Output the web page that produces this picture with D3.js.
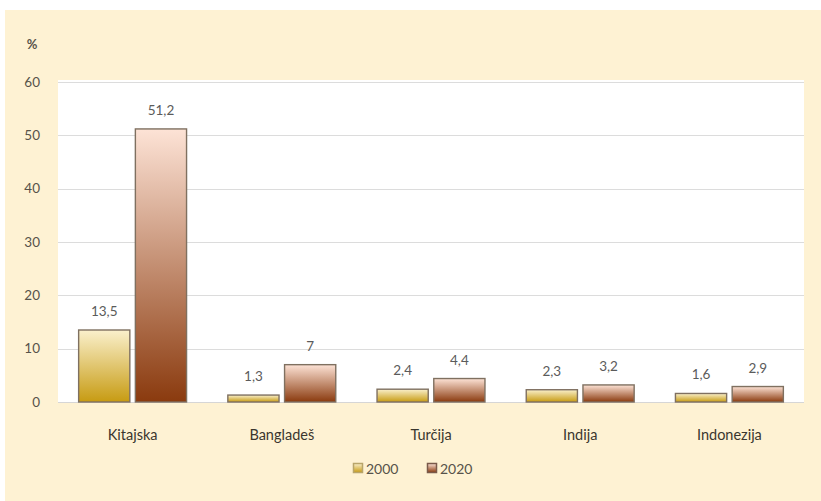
<!DOCTYPE html>
<html>
<head>
<meta charset="utf-8">
<script src="https://cdn.jsdelivr.net/npm/d3@7/dist/d3.min.js"></script>
<style>
  html, body { margin: 0; padding: 0; background: #ffffff; }
  svg { display: block; }
  text { font-family: Lato, "Open Sans", sans-serif; }
</style>
</head>
<body>
<svg id="chart" width="821" height="501"></svg>
<script>
// Share of world textile exports, %
const categories = ["Kitajska", "Bangladeš", "Turčija", "Indija", "Indonezija"];
const years = ["2000", "2020"];
const values2000 = [13.5, 1.3, 2.4, 2.3, 1.6];
const values2020 = [51.2, 7, 4.4, 3.2, 2.9];
const yTicks = [0, 10, 20, 30, 40, 50, 60];

const series = [
  { key: years[0], values: values2000, top: "#faf0cc", bottom: "#c79b12", legend: "#b8a56a" },
  { key: years[1], values: values2020, top: "#fde3d6", bottom: "#8a3a0e", legend: "#7a5a4a" }
];

const W = 821, H = 501;
const svg = d3.select("#chart");

// page background
svg.append("rect").attr("x", 5).attr("y", 10).attr("width", W - 5).attr("height", H - 10)
  .attr("fill", "#fef2d3");

const plot = { left: 58, right: 804, top: 80, bottom: 402 };

svg.append("rect")
  .attr("x", plot.left).attr("y", plot.top)
  .attr("width", plot.right - plot.left).attr("height", plot.bottom - plot.top + 1)
  .attr("fill", "#ffffff");

const y = d3.scaleLinear().domain([0, 60]).range([plot.bottom, 82]);
const x0 = d3.scaleBand().domain(categories).range([plot.left, plot.right]).paddingInner(0.27).paddingOuter(0.135);
const x1 = d3.scaleBand().domain(years).range([0, x0.bandwidth()]).paddingInner(0.08);

// gradients, one per series, spanning each bar's own height
const defs = svg.append("defs");
series.forEach((s, i) => {
  const g = defs.append("linearGradient").attr("id", "grad" + i)
    .attr("x1", 0).attr("y1", 0).attr("x2", 0).attr("y2", 1);
  g.append("stop").attr("offset", "0%").attr("stop-color", s.top);
  g.append("stop").attr("offset", "100%").attr("stop-color", s.bottom);
});

// gridlines
svg.append("g").selectAll("line").data(yTicks.filter(t => t > 0)).join("line")
  .attr("x1", plot.left).attr("x2", plot.right)
  .attr("y1", d => Math.round(y(d)) + 0.5).attr("y2", d => Math.round(y(d)) + 0.5)
  .attr("stroke", "#dcdcdc").attr("stroke-width", 1.2);

// baseline
svg.append("line").attr("x1", plot.left).attr("x2", plot.right)
  .attr("y1", Math.round(y(0)) + 0.5).attr("y2", Math.round(y(0)) + 0.5)
  .attr("stroke", "#d6d6d6").attr("stroke-width", 1.2);

// y axis labels
const yAxis = d3.axisLeft(y).tickValues(yTicks).tickSize(0).tickPadding(0);
const yg = svg.append("g").attr("transform", "translate(40,0)").call(yAxis);
yg.select(".domain").remove();
yg.selectAll("text").attr("fill", "#57534a").attr("font-size", 13.5).attr("font-family", "Lato, sans-serif");

svg.append("text").attr("x", 32).attr("y", 49).attr("text-anchor", "middle")
  .attr("fill", "#57534a").attr("font-size", 13).attr("font-weight", "bold").text("%");

// bars
series.forEach((s, i) => {
  const g = svg.append("g");
  g.selectAll("rect").data(s.values).join("rect")
    .attr("x", (d, j) => x0(categories[j]) + x1(s.key) + 0.5)
    .attr("y", d => y(d))
    .attr("width", x1.bandwidth() - 1)
    .attr("height", d => y(0) - y(d))
    .attr("fill", `url(#grad${i})`)
    .attr("stroke", "#7f7060").attr("stroke-width", 1.4);

  g.selectAll("text").data(s.values).join("text")
    .attr("x", (d, j) => x0(categories[j]) + x1(s.key) + x1.bandwidth() / 2)
    .attr("y", d => y(d) - 14)
    .attr("text-anchor", "middle")
    .attr("fill", "#5b5b5b").attr("font-size", 13.5)
    .text(d => d3.format(",")(d).replace(".", ","));
});

// x axis labels
const xAxis = d3.axisBottom(x0).tickSize(0).tickPadding(0);
const xg = svg.append("g").attr("transform", "translate(0,430)").call(xAxis);
xg.select(".domain").remove();
xg.selectAll("text").attr("fill", "#3a362e").attr("font-size", 14.5).attr("font-family", "Lato, sans-serif");

// legend
const legendX = [353, 427];
const lg = svg.append("g");
series.forEach((s, i) => {
  const item = lg.append("g").attr("transform", `translate(${legendX[i]},463)`);
  item.append("rect").attr("x", 0.5).attr("y", 0.5).attr("width", 9).attr("height", 9)
    .attr("fill", `url(#grad${i})`).attr("stroke", s.legend).attr("stroke-width", 1.5);
  item.append("text").attr("x", 13).attr("y", 10.5).attr("fill", "#57534a")
    .attr("font-size", 14).text(s.key);
});
</script>
</body>
</html>
